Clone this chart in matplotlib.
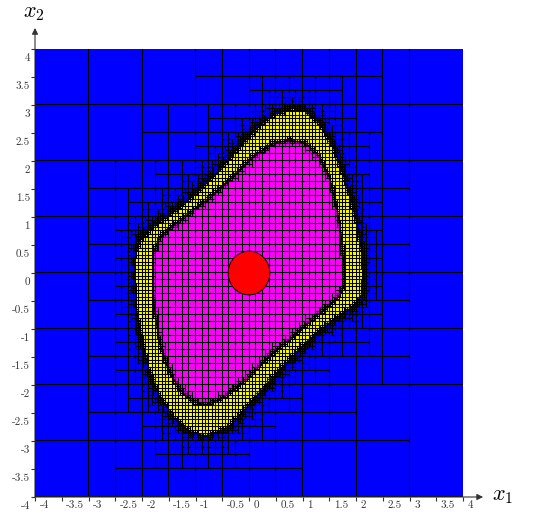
import matplotlib
matplotlib.use("Agg")
import matplotlib.pyplot as plt
import numpy as np
from matplotlib.path import Path
from matplotlib.patches import Polygon, Circle, Rectangle
from matplotlib.collections import PolyCollection
from matplotlib.transforms import ScaledTranslation

# outer edge of the yellow band (x1, x2)
outer_x = [0.82, 1.07, 1.32, 1.57, 1.75, 1.91, 2.03, 2.11, 2.14, 2.10, 1.94, 1.57,
           1.25, 0.63, 0.07, -0.36, -0.80, -1.11, -1.42, -1.70, -1.89, -2.01, -2.10,
           -2.13, -2.13, -2.04, -1.79, -1.36, -0.92, -0.55, -0.175, 0.136, 0.447]
outer_y = [2.94, 2.88, 2.67, 2.26, 1.78, 1.30, 0.83, 0.35, -0.07, -0.40, -0.60, -0.84,
           -1.08, -1.67, -2.27, -2.74, -2.92, -2.83, -2.57, -2.15, -1.67, -1.14, -0.66,
           -0.18, 0.29, 0.59, 0.83, 1.125, 1.48, 1.84, 2.256, 2.58, 2.82]

# edge of the magenta set
inner_x = [0.757, 1.07, 1.32, 1.50, 1.63, 1.72, 1.78, 1.78, 1.63, 1.25, 0.82, 0.38,
           -0.05, -0.49, -0.80, -1.05, -1.29, -1.51, -1.67, -1.76, -1.80, -1.79, -1.67,
           -1.29, -0.80, -0.30, 0.07, 0.447]
inner_y = [2.375, 2.315, 2.08, 1.72, 1.24, 0.71, 0.11, -0.24, -0.48, -0.78, -1.14, -1.49,
           -1.91, -2.24, -2.36, -2.30, -2.09, -1.73, -1.26, -0.72, -0.18, 0.35, 0.65,
           0.946, 1.30, 1.72, 2.08, 2.315]

disc_center = (0.0, 0.0)
disc_radius = 0.39

ticks = np.arange(-4, 4.01, 0.5)
tick_labels = ['-4', '-3.5', '-3', '-2.5', '-2', '-1.5', '-1', '-0.5', '0',
               '0.5', '1', '1.5', '2', '2.5', '3', '3.5', '4']

# raster of both sets, used to sort the boxes of the paving
N = 1024
res = 8.0 / N
c = -4 + res * (np.arange(N) + 0.5)
gx, gy = np.meshgrid(c, c)
pts = np.column_stack([gx.ravel(), gy.ravel()])
m_out = Path(np.column_stack([outer_x, outer_y])).contains_points(pts).reshape(N, N)
m_in = Path(np.column_stack([inner_x, inner_y])).contains_points(pts).reshape(N, N)


def sat(m):
    s = np.zeros((N + 1, N + 1), dtype=np.int64)
    s[1:, 1:] = m.cumsum(0).cumsum(1)
    return s


s_out, s_in = sat(m_out), sat(m_in)


def idx(v):
    return int(np.clip(round((v + 4) / res), 0, N))


def count(s, x0, x1, y0, y1):
    i0, i1, j0, j1 = idx(x0), idx(x1), idx(y0), idx(y1)
    return s[j1, i1] - s[j0, i1] - s[j1, i0] + s[j0, i0], (i1 - i0) * (j1 - j0)


blue_boxes = []
grid_boxes = []
K_OUT = 0.6   # pessimism of the outside test
K_IN = 0.1    # pessimism of the inside tests


def pave(x0, x1, y0, y1):
    w = max(x1 - x0, y1 - y0)
    d = K_OUT * w
    no, _ = count(s_out, x0 - d, x1 + d, y0 - d, y1 + d)
    rect = [(x0, y0), (x1, y0), (x1, y1), (x0, y1)]
    if no == 0:
        blue_boxes.append(rect)
        return
    d = K_IN * w
    no, n = count(s_out, x0 - d, x1 + d, y0 - d, y1 + d)
    ni, _ = count(s_in, x0 - d, x1 + d, y0 - d, y1 + d)
    if (ni == n and w <= 0.125) or (no == n and ni == 0 and w <= 0.0625) or w <= 0.03125:
        grid_boxes.append(rect)
        return
    if x1 - x0 >= y1 - y0:
        xm = (x0 + x1) / 2
        pave(x0, xm, y0, y1)
        pave(xm, x1, y0, y1)
    else:
        ym = (y0 + y1) / 2
        pave(x0, x1, y0, ym)
        pave(x0, x1, ym, y1)


pave(-4, 4, -4, 4)

plt.rcParams['mathtext.fontset'] = 'cm'
fig = plt.figure(figsize=(5.45, 5.15), dpi=100)
ax = fig.add_axes([35 / 545, 18 / 515, 428 / 545, 448 / 515])
ax.set_xlim(-4, 4)
ax.set_ylim(-4, 4)


def on_pixels(rects):
    # move box corners onto pixel centres so 1 px edges stay crisp
    arr = np.array(rects, dtype=float)
    disp = np.floor(ax.transData.transform(arr.reshape(-1, 2))) + 0.5
    return ax.transData.inverted().transform(disp).reshape(arr.shape)


blue_px = on_pixels(blue_boxes)
all_px = on_pixels(blue_boxes + grid_boxes)

ax.add_patch(Rectangle((-4, -4), 8, 8, fc='#0000ff', ec='none', zorder=1))
ax.add_patch(Polygon(np.column_stack([outer_x, outer_y]), fc='#ffff00', ec='black', lw=0.8, zorder=2))
ax.add_patch(Polygon(np.column_stack([inner_x, inner_y]), fc='#ff00ff', ec='black', lw=0.8, zorder=3))
ax.add_collection(PolyCollection(blue_px, facecolors='#0000ff', edgecolors='none', zorder=4))
edges = PolyCollection(all_px, facecolors='none', edgecolors='black', linewidths=0.74, zorder=5)
edges.set_snap(False)
ax.add_collection(edges)
ax.add_patch(Circle(disc_center, disc_radius, fc='#ff0000', ec='black', lw=0.7, zorder=6))

for sp in ax.spines.values():
    sp.set_visible(False)

ax.set_xticks(ticks)
ax.set_yticks(ticks)
ax.set_xticklabels(tick_labels)
ax.set_yticklabels(tick_labels)
ax.tick_params(axis='both', direction='out', length=3, width=0.8, color='#333333',
               labelsize=8, labelcolor='#333333')
ax.tick_params(axis='x', pad=2.8)
ax.tick_params(axis='y', pad=0.6)
for lab in ax.get_xticklabels():
    lab.set_fontfamily('cmr10')
    lab.set_ha('left')
    lab.set_va('center')
    lab.set_transform(lab.get_transform() + ScaledTranslation(0.045, 0, fig.dpi_scale_trans))
for lab in ax.get_yticklabels():
    lab.set_fontfamily('cmr10')
    lab.set_ha('right')
    lab.set_va('center')
    lab.set_transform(lab.get_transform() + ScaledTranslation(0, -0.09, fig.dpi_scale_trans))

arrow = dict(arrowstyle='-|>', color='#333333', lw=0.8, shrinkA=0, shrinkB=0, mutation_scale=9)
ax.annotate('', xy=(0, 1.047), xytext=(0, 0), xycoords='axes fraction',
            arrowprops=arrow, annotation_clip=False, zorder=10)
ax.annotate('', xy=(1.047, 0), xytext=(0, 0), xycoords='axes fraction',
            arrowprops=arrow, annotation_clip=False, zorder=10)

fig.text(34 / 545, 1 - 13 / 515, '$x_2$', fontsize=16, ha='center', va='center')
fig.text(503 / 545, 1 - 496 / 515, '$x_1$', fontsize=16, ha='center', va='center')

fig.savefig('out.png', dpi=100)
